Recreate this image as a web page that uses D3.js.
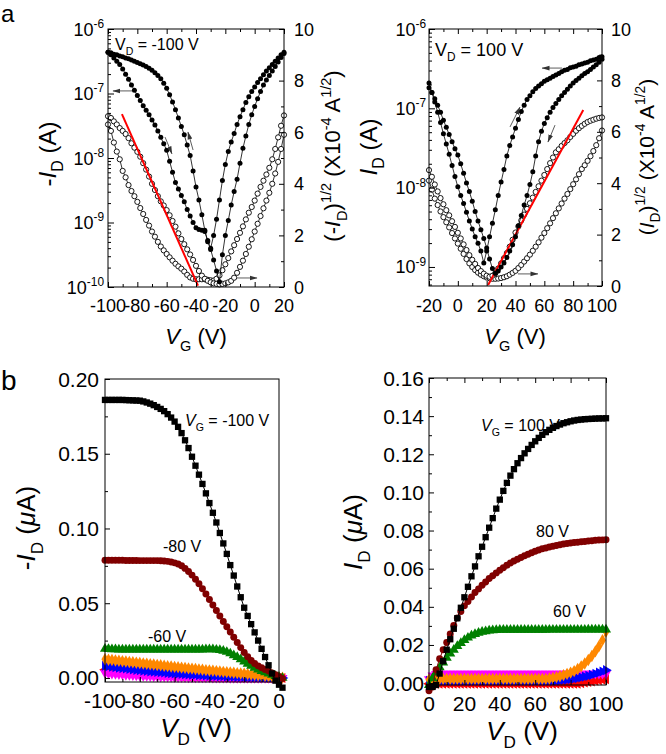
<!DOCTYPE html>
<html><head><meta charset="utf-8">
<script src="https://cdn.jsdelivr.net/npm/d3@7/dist/d3.min.js"></script>
<style>html,body{margin:0;padding:0;background:#fff}svg{display:block;font-family:"Liberation Sans",Arial,Helvetica,sans-serif}text{white-space:pre}</style>
</head><body>
<svg id="chart" width="666" height="754"></svg>
<script>
// ---------------- DATA ----------------
// Panel a (left): V_D = -100 V, transfer curves
const aLeftVG = [-100,-98,-96,-94,-92,-90,-88,-86,-84,-82,-80,-78,-76,-74,-72,-70,-68,-66,-64,-62,-60,-58,-56,-54,-52,-50,-48,-46,-44,-42,-40,-38,-36,-34,-32,-30,-28,-26,-24,-22,-20,-18,-16,-14,-12,-10,-8,-6,-4,-2,0,2,4,6,8,10,12,14,16,18,20];
// log10(-I_D / A), two sweeps
const aLeftLogI1 = [-6.36,-6.40,-6.45,-6.50,-6.55,-6.62,-6.70,-6.78,-6.87,-6.95,-7.03,-7.11,-7.19,-7.26,-7.33,-7.41,-7.49,-7.58,-7.68,-7.78,-7.88,-8.05,-8.22,-8.38,-8.48,-8.58,-8.68,-8.80,-8.90,-9.00,-9.08,-9.11,-9.12,-9.14,-9.28,-9.40,-9.20,-8.95,-8.65,-8.35,-8.10,-7.90,-7.75,-7.62,-7.48,-7.36,-7.25,-7.14,-7.05,-6.97,-6.90,-6.83,-6.77,-6.71,-6.65,-6.60,-6.55,-6.50,-6.45,-6.40,-6.36];
const aLeftLogI2 = [-6.36,-6.37,-6.39,-6.40,-6.42,-6.43,-6.45,-6.46,-6.48,-6.50,-6.52,-6.54,-6.56,-6.58,-6.61,-6.64,-6.68,-6.72,-6.77,-6.84,-6.92,-7.02,-7.13,-7.25,-7.38,-7.51,-7.64,-7.80,-7.96,-8.20,-8.45,-8.65,-8.88,-9.12,-9.30,-9.42,-9.58,-9.75,-9.92,-9.50,-9.20,-8.97,-8.73,-8.52,-8.33,-8.08,-7.85,-7.66,-7.48,-7.33,-7.20,-7.08,-6.97,-6.87,-6.79,-6.72,-6.65,-6.58,-6.51,-6.44,-6.38];
// (-I_D)^1/2 in 1e-4 A^1/2, two sweeps
const aLeftSqrt1 = [6.62,6.55,6.42,6.30,6.16,6.05,5.93,5.77,5.57,5.40,5.24,5.05,4.80,4.55,4.28,4.00,3.76,3.52,3.32,3.16,2.98,2.78,2.56,2.34,2.08,1.86,1.66,1.46,1.26,1.05,0.82,0.62,0.44,0.32,0.24,0.18,0.14,0.12,0.10,0.12,0.14,0.18,0.24,0.36,0.55,0.78,1.02,1.28,1.56,1.85,2.15,2.45,2.75,3.05,3.35,3.65,4.00,4.40,4.85,5.35,5.90];
const aLeftSqrt2 = [6.30,6.05,5.60,5.25,4.95,4.50,4.25,3.95,3.72,3.52,3.30,3.06,2.83,2.60,2.38,2.15,1.95,1.75,1.57,1.42,1.28,1.15,1.02,0.90,0.80,0.71,0.60,0.47,0.37,0.32,0.30,0.30,0.30,0.30,0.28,0.26,0.25,0.32,0.45,0.65,0.88,1.12,1.38,1.62,1.86,2.10,2.35,2.62,2.88,3.10,3.35,3.62,3.88,4.12,4.36,4.62,4.95,5.35,5.80,6.25,6.65];
const aLeftFitVG = [-90.5,-38.6];
const aLeftFitSqrt = [6.7,0.05];

// Panel a (right): V_D = 100 V
const aRightVG = [-20,-18,-16,-14,-12,-10,-8,-6,-4,-2,0,2,4,6,8,10,12,14,16,18,20,22,24,26,28,30,32,34,36,38,40,42,44,46,48,50,52,54,56,58,60,62,64,66,68,70,72,74,76,78,80,82,84,86,88,90,92,94,96,98,100];
const aRightLogI1 = [-6.68,-6.80,-6.92,-7.05,-7.18,-7.32,-7.45,-7.58,-7.72,-7.86,-7.99,-8.10,-8.20,-8.31,-8.42,-8.52,-8.62,-8.70,-8.80,-8.95,-8.80,-8.62,-8.45,-8.28,-8.10,-7.93,-7.77,-7.60,-7.47,-7.36,-7.25,-7.14,-7.04,-6.96,-6.89,-6.84,-6.79,-6.75,-6.72,-6.69,-6.66,-6.64,-6.62,-6.60,-6.58,-6.56,-6.54,-6.52,-6.51,-6.49,-6.48,-6.47,-6.45,-6.44,-6.43,-6.42,-6.40,-6.39,-6.38,-6.36,-6.35];
const aRightLogI2 = [-6.74,-6.80,-6.88,-6.96,-7.05,-7.15,-7.24,-7.33,-7.42,-7.51,-7.59,-7.70,-7.82,-7.94,-8.05,-8.17,-8.30,-8.42,-8.53,-8.64,-8.76,-8.90,-9.02,-9.08,-9.05,-9.00,-8.95,-8.88,-8.80,-8.72,-8.62,-8.48,-8.35,-8.22,-8.10,-7.96,-7.80,-7.60,-7.42,-7.29,-7.19,-7.12,-7.05,-6.99,-6.94,-6.89,-6.84,-6.80,-6.76,-6.72,-6.68,-6.65,-6.62,-6.59,-6.56,-6.54,-6.51,-6.48,-6.45,-6.42,-6.38];
const aRightSqrt1 = [4.51,4.25,3.95,3.68,3.42,3.18,2.95,2.75,2.52,2.30,2.07,1.85,1.62,1.40,1.20,1.02,0.86,0.70,0.58,0.48,0.40,0.36,0.40,0.50,0.68,0.88,1.08,1.28,1.53,1.80,2.08,2.32,2.55,2.78,3.00,3.22,3.44,3.66,3.88,4.10,4.32,4.55,4.78,5.00,5.20,5.32,5.45,5.56,5.67,5.80,5.92,6.04,6.14,6.23,6.31,6.38,6.43,6.47,6.51,6.54,6.56];
const aRightSqrt2 = [4.10,3.75,3.40,3.15,2.90,2.68,2.48,2.28,2.06,1.85,1.65,1.45,1.25,1.05,0.88,0.74,0.62,0.52,0.44,0.38,0.33,0.30,0.28,0.28,0.29,0.31,0.34,0.38,0.44,0.51,0.59,0.70,0.82,0.95,1.08,1.22,1.37,1.53,1.70,1.88,2.06,2.25,2.44,2.64,2.83,3.02,3.21,3.40,3.58,3.77,3.96,4.15,4.35,4.55,4.70,4.87,5.05,5.25,5.48,5.75,6.05];
const aRightFitVG = [21,87];
const aRightFitSqrt = [0.04,6.85];

// Panel b (left): output curves, -I_D in uA
const bLeftVD = [-100,-98,-96,-94,-92,-90,-88,-86,-84,-82,-80,-78,-76,-74,-72,-70,-68,-66,-64,-62,-60,-58,-56,-54,-52,-50,-48,-46,-44,-42,-40,-38,-36,-34,-32,-30,-28,-26,-24,-22,-20,-18,-16,-14,-12,-10,-8,-6,-4,-2,0,2];
const bLeftVG100 = [0.186,0.186,0.186,0.186,0.186,0.186,0.1859,0.1858,0.1857,0.1856,0.1855,0.185,0.1843,0.1835,0.1825,0.1813,0.18,0.1785,0.1765,0.1742,0.1715,0.168,0.1638,0.159,0.1538,0.148,0.142,0.136,0.1298,0.1235,0.117,0.1105,0.104,0.097,0.090,0.083,0.0755,0.0685,0.0612,0.054,0.047,0.0415,0.036,0.0305,0.025,0.0195,0.014,0.0085,0.003,-0.0018,-0.0045,-0.0065];
const bLeftVG80 = [0.0787,0.0787,0.0787,0.0787,0.0787,0.0787,0.0786,0.0786,0.0786,0.0786,0.0785,0.0785,0.0785,0.0785,0.0785,0.0785,0.0784,0.0782,0.078,0.0776,0.077,0.0762,0.075,0.0733,0.0712,0.0688,0.066,0.063,0.0597,0.0562,0.0525,0.0488,0.0451,0.0415,0.0378,0.0342,0.0307,0.0272,0.0237,0.0203,0.0171,0.0142,0.0117,0.0097,0.0081,0.0068,0.0057,0.0046,0.0034,0.0021,0.0008,-0.0004];
const bLeftVG60 = [0.0195,0.0193,0.0192,0.0191,0.019,0.019,0.019,0.019,0.019,0.019,0.019,0.019,0.019,0.019,0.019,0.019,0.019,0.019,0.019,0.019,0.019,0.019,0.019,0.019,0.019,0.019,0.019,0.019,0.019,0.0191,0.0192,0.0191,0.0189,0.0186,0.0181,0.0174,0.0164,0.0152,0.0139,0.0125,0.011,0.0095,0.0081,0.0068,0.0056,0.0046,0.0037,0.0029,0.0021,0.0013,0.0006,0.0];
const bLeftMagenta = [0.0033,0.0031,0.0029,0.0027,0.0025,0.0023,0.0021,0.002,0.0018,0.0017,0.0015,0.0014,0.0013,0.0012,0.0011,0.001,0.0009,0.0008,0.0008,0.0007,0.0006,0.0006,0.0005,0.0005,0.0004,0.0004,0.0004,0.0003,0.0003,0.0003,0.0003,0.0002,0.0002,0.0002,0.0002,0.0002,0.0001,0.0001,0.0001,0.0001,0.0001,0.0001,0.0001,0.0001,0.0,0.0,0.0,0.0,0.0,0.0,0.0,0.0];
const bLeftRed = [0.0055,0.0052,0.0049,0.0046,0.0044,0.0042,0.0039,0.0037,0.0034,0.0032,0.003,0.0028,0.0026,0.0024,0.0022,0.0021,0.0019,0.0018,0.0016,0.0015,0.0014,0.0013,0.0012,0.0011,0.001,0.0009,0.0008,0.0007,0.0006,0.0006,0.0005,0.0005,0.0004,0.0004,0.0003,0.0003,0.0003,0.0002,0.0002,0.0002,0.0002,0.0001,0.0001,0.0001,0.0001,0.0001,0.0,0.0,0.0,0.0,0.0,0.0];
const bLeftBlue = [0.0082,0.0079,0.0075,0.0072,0.0069,0.0066,0.0063,0.006,0.0057,0.0054,0.0052,0.0049,0.0047,0.0044,0.0042,0.004,0.0038,0.0036,0.0034,0.0032,0.003,0.0028,0.0027,0.0025,0.0024,0.0022,0.0021,0.0019,0.0018,0.0016,0.0015,0.0014,0.0013,0.0012,0.0011,0.001,0.0009,0.0008,0.0007,0.0007,0.0006,0.0005,0.0005,0.0004,0.0004,0.0003,0.0003,0.0002,0.0002,0.0001,0.0001,0.0];
const bLeftOrange = [0.0125,0.0122,0.012,0.0117,0.0115,0.0112,0.011,0.0107,0.0105,0.0102,0.01,0.0097,0.0095,0.0092,0.009,0.0087,0.0085,0.0082,0.0079,0.0077,0.0074,0.0072,0.0069,0.0067,0.0064,0.0062,0.006,0.0057,0.0055,0.0052,0.005,0.0048,0.0046,0.0043,0.0041,0.0039,0.0037,0.0035,0.0032,0.003,0.0028,0.0026,0.0023,0.0021,0.0018,0.0016,0.0014,0.0011,0.0009,0.0006,0.0004,0.0002];

// Panel b (right): I_D in uA
const bRightVD = [0,2,4,6,8,10,12,14,16,18,20,22,24,26,28,30,32,34,36,38,40,42,44,46,48,50,52,54,56,58,60,62,64,66,68,70,72,74,76,78,80,82,84,86,88,90,92,94,96,98,100];
const bRightVG100 = [-0.002,-0.002,-0.001,0.005,0.0115,0.0175,0.023,0.0285,0.034,0.0395,0.045,0.0505,0.056,0.0612,0.0665,0.0715,0.0765,0.0815,0.0865,0.0915,0.0962,0.1008,0.105,0.1088,0.1122,0.1153,0.118,0.1205,0.1228,0.1249,0.1268,0.1286,0.1302,0.1316,0.1328,0.1339,0.1348,0.1356,0.1363,0.1368,0.1373,0.1377,0.138,0.1382,0.1384,0.1385,0.1386,0.1387,0.1388,0.1388,0.1389];
const bRightVG80 = [-0.004,-0.002,0.007,0.0128,0.0175,0.0213,0.0258,0.0302,0.0342,0.0375,0.0405,0.0428,0.0452,0.0475,0.0494,0.0513,0.053,0.0548,0.0563,0.0578,0.0592,0.0605,0.0618,0.063,0.064,0.065,0.0659,0.0668,0.0676,0.0684,0.0691,0.0698,0.0704,0.0709,0.0714,0.0718,0.0722,0.0726,0.0729,0.0732,0.0735,0.0737,0.0739,0.0741,0.0743,0.0745,0.0747,0.0749,0.075,0.0751,0.0752];
const bRightVG60 = [-0.001,0.0025,0.0055,0.0083,0.0108,0.0132,0.0155,0.0175,0.0194,0.021,0.0225,0.0238,0.0249,0.0257,0.0264,0.0269,0.0272,0.0275,0.0277,0.0278,0.0279,0.0279,0.0279,0.0279,0.0279,0.0279,0.0279,0.0279,0.0279,0.0279,0.0279,0.0279,0.0279,0.0279,0.028,0.028,0.028,0.028,0.028,0.028,0.028,0.028,0.028,0.028,0.028,0.0281,0.0281,0.0281,0.0281,0.0281,0.0281];
const bRightMagenta = [0.002,0.004,0.0048,0.005,0.005,0.005,0.005,0.005,0.005,0.005,0.005,0.005,0.005,0.005,0.005,0.005,0.005,0.005,0.005,0.005,0.005,0.005,0.005,0.005,0.005,0.005,0.005,0.005,0.005,0.005,0.005,0.005,0.005,0.005,0.005,0.005,0.005,0.005,0.005,0.005,0.005,0.005,0.005,0.005,0.005,0.005,0.005,0.005,0.005,0.005,0.005];
const bRightRed = [-0.0003,-0.0003,-0.0003,-0.0003,-0.0003,-0.0003,-0.0003,-0.0003,-0.0003,-0.0003,-0.0003,-0.0003,-0.0003,-0.0003,-0.0003,-0.0003,-0.0003,-0.0003,-0.0003,-0.0003,-0.0003,-0.0003,-0.0003,-0.0003,-0.0003,-0.0003,-0.0003,-0.0003,-0.0003,-0.0003,-0.0003,-0.0003,-0.0003,-0.0003,-0.0003,-0.0003,-0.0003,-0.0003,-0.0003,-0.0003,-0.0003,-0.0003,-0.0003,0.0,0.0003,0.0006,0.0009,0.0012,0.0015,0.0018,0.0021];
const bRightBlue = [0.0012,0.0012,0.0012,0.0012,0.0012,0.0012,0.0012,0.0012,0.0012,0.0012,0.0012,0.0012,0.0012,0.0012,0.0012,0.0012,0.0012,0.0012,0.0012,0.0012,0.0012,0.0012,0.0012,0.0012,0.0012,0.0012,0.0012,0.0012,0.0012,0.0012,0.0012,0.0012,0.0012,0.0012,0.0012,0.0012,0.0013,0.0014,0.0016,0.0018,0.002,0.0023,0.0026,0.003,0.0034,0.0038,0.0043,0.0049,0.0055,0.0061,0.0068];
const bRightOrange = [0.0018,0.002,0.0022,0.0022,0.0022,0.0022,0.0022,0.0022,0.0022,0.0022,0.0022,0.0022,0.0022,0.0022,0.0022,0.0022,0.0022,0.0022,0.0022,0.0022,0.0022,0.0022,0.0022,0.0022,0.0022,0.0022,0.0022,0.0022,0.0022,0.0022,0.0022,0.0022,0.0022,0.0022,0.0024,0.0027,0.0031,0.0036,0.0042,0.0048,0.0055,0.0063,0.0074,0.0088,0.0103,0.0121,0.0142,0.0166,0.0193,0.0225,0.027];

// Tick values
const aLeftXTicks = [-100,-80,-60,-40,-20,0,20];
const aRightXTicks = [-20,0,20,40,60,80,100];
const aRightAxisTicks = [0,2,4,6,8,10];
const bLeftXTicks = [-100,-80,-60,-40,-20,0];
const bLeftYTicks = [0,0.05,0.10,0.15,0.20];
const bRightXTicks = [0,20,40,60,80,100];
const bRightYTicks = [0,0.02,0.04,0.06,0.08,0.10,0.12,0.14,0.16];

// Arrow annotations (data coords: [V_G, right-axis value])
const aLeftArrows = [[[-83.6,7.6],[-96.6,7.6]],[[-12,0.35],[1.6,0.35]],[[-61.1,5.81],[-56.4,5.16]],[[-42,5.31],[-45.5,6.01]]];
const aRightArrows = [[[72.3,8.48],[58.4,8.48]],[[41.7,0.47],[55.6,0.47]],[[36.2,6.19],[43.1,6.96]],[[67.4,6.26],[62.5,5.6]]];

// ---------------- DRAWING ----------------
const svg = d3.select("#chart");
svg.append("defs").append("marker").attr("id","ah").attr("viewBox","0 0 8 6").attr("refX",7.5).attr("refY",3)
  .attr("markerWidth",8).attr("markerHeight",6).attr("markerUnits","userSpaceOnUse").attr("orient","auto")
  .append("path").attr("d","M0,0.6 L8,3 L0,5.4 Z").attr("fill","#333");

function rich(parent, parts, size) {
  const t = parent.append("text").attr("font-size", size).attr("fill", "#000");
  let cur = 0;
  parts.forEach(p => {
    const txt = p[0], mode = p[1], ital = p[2];
    const target = mode === "sub" ? size * 0.3 : mode === "sup" ? -size * 0.42 : 0;
    const ts = t.append("tspan").text(txt);
    if (target - cur !== 0) ts.attr("dy", target - cur);
    if (mode) ts.attr("font-size", size * 0.66);
    if (ital) ts.attr("font-style", "italic");
    cur = target;
  });
  return t;
}
function frame(x0, y0, x1, y1) {
  svg.append("rect").attr("x", x0).attr("y", y0).attr("width", x1 - x0).attr("height", y1 - y0)
    .attr("fill", "none").attr("stroke", "#000").attr("stroke-width", 1);
}
function tickAxis(gen, scale, vals, size, tx, ty) {
  const g = svg.append("g").attr("transform", `translate(${tx},${ty})`)
    .call(gen(scale).tickValues(vals).tickSizeInner(size).tickSizeOuter(0).tickFormat(""));
  g.select(".domain").remove();
  g.selectAll(".tick text").remove();
  g.selectAll(".tick line").attr("stroke", "#000").attr("stroke-width", 1);
}
function label(x, y, txt, size, anchor) {
  svg.append("text").attr("x", x).attr("y", y).attr("font-size", size).attr("text-anchor", anchor).text(txt);
}
function logMinor(lo, hi) {
  const v = [];
  for (let d = lo; d < hi; d++) for (let k = 2; k <= 9; k++) v.push(k * Math.pow(10, d));
  return v;
}
function drawCurve(xs, ys, xS, yS, filled) {
  const pts = xs.map((x, i) => [xS(x), yS(ys[i])]);
  svg.append("path").attr("d", d3.line()(pts)).attr("fill", "none").attr("stroke", "#000").attr("stroke-width", 0.8);
  svg.append("g").selectAll("circle").data(pts).join("circle")
    .attr("cx", d => d[0]).attr("cy", d => d[1]).attr("r", filled ? 2.5 : 2.6)
    .attr("fill", filled ? "#000" : "#fff").attr("stroke", "#000").attr("stroke-width", filled ? 0 : 0.9);
}
function arrows(list, xS, yS) {
  list.forEach(a => {
    svg.append("line").attr("x1", xS(a[0][0])).attr("y1", yS(a[0][1])).attr("x2", xS(a[1][0])).attr("y2", yS(a[1][1]))
      .attr("stroke", "#333").attr("stroke-width", 0.8).attr("marker-end", "url(#ah)");
  });
}

// ===== Panel a-left =====
const xAL = d3.scaleLinear().domain([-100, 20]).range([108, 284]);
const yALlog = d3.scaleLog().domain([1e-10, 1e-6]).range([287, 29]);
const yALr = d3.scaleLinear().domain([0, 10]).range([287, 29]);
const logToY_AL = v => yALlog(Math.pow(10, v));

drawCurve(aLeftVG, aLeftSqrt2, xAL, yALr, false);
drawCurve(aLeftVG, aLeftSqrt1, xAL, yALr, false);
svg.append("line").attr("x1", xAL(aLeftFitVG[0])).attr("y1", yALr(aLeftFitSqrt[0]))
  .attr("x2", xAL(aLeftFitVG[1])).attr("y2", yALr(aLeftFitSqrt[1])).attr("stroke", "#f00").attr("stroke-width", 2);
drawCurve(aLeftVG, aLeftLogI2, xAL, logToY_AL, true);
drawCurve(aLeftVG, aLeftLogI1, xAL, logToY_AL, true);
arrows(aLeftArrows, xAL, yALr);

frame(108, 29, 284, 287);
tickAxis(d3.axisBottom, xAL, aLeftXTicks, -5, 0, 287);
tickAxis(d3.axisBottom, xAL, [-90,-70,-50,-30,-10,10], -3, 0, 287);
tickAxis(d3.axisTop, xAL, aLeftXTicks, -5, 0, 29);
tickAxis(d3.axisTop, xAL, [-90,-70,-50,-30,-10,10], -3, 0, 29);
tickAxis(d3.axisLeft, yALlog, [1e-10,1e-9,1e-8,1e-7,1e-6], -6, 108, 0);
tickAxis(d3.axisLeft, yALlog, logMinor(-10, -6), -3, 108, 0);
tickAxis(d3.axisRight, yALr, aRightAxisTicks, -5, 284, 0);
tickAxis(d3.axisRight, yALr, [1,3,5,7,9], -3, 284, 0);

aLeftXTicks.forEach(v => label(xAL(v), 312, String(v), 18, "middle"));
aRightAxisTicks.forEach(v => label(294, yALr(v) + 6.5, String(v), 18, "start"));
[6,7,8,9,10].forEach(n => rich(svg, [["10"], ["-" + n, "sup"]], 18)
  .attr("x", 104).attr("y", yALlog(Math.pow(10, -n)) + 6.5).attr("text-anchor", "end"));

rich(svg, [["V"], ["D", "sub"], [" = -100 V"]], 16).attr("x", 115).attr("y", 50);
rich(svg, [["-"], ["I", null, true], ["D", "sub"], [" (A)"]], 24)
  .attr("transform", "translate(56,154) rotate(-90)").attr("text-anchor", "middle");
rich(svg, [["(-"], ["I", null, true], ["D", "sub"], [")"], ["1/2", "sup"], [" (X10"], ["-4", "sup"], [" A"], ["1/2", "sup"], [")"]], 22)
  .attr("transform", "translate(340,156) rotate(-90)").attr("text-anchor", "middle");
rich(svg, [["V", null, true], ["G", "sub"], [" (V)"]], 22).attr("x", 196).attr("y", 344).attr("text-anchor", "middle");
label(1, 22, "a", 24, "start");

// ===== Panel a-right =====
const xAR = d3.scaleLinear().domain([-20, 100]).range([429, 602]);
const yARlog = d3.scaleLog().domain([Math.pow(10, -9.24), 1e-6]).range([286, 29]);
const yARr = d3.scaleLinear().domain([0, 10]).range([286, 29]);
const logToY_AR = v => yARlog(Math.pow(10, v));

drawCurve(aRightVG, aRightSqrt2, xAR, yARr, false);
drawCurve(aRightVG, aRightSqrt1, xAR, yARr, false);
svg.append("line").attr("x1", xAR(aRightFitVG[0])).attr("y1", yARr(aRightFitSqrt[0]))
  .attr("x2", xAR(aRightFitVG[1])).attr("y2", yARr(aRightFitSqrt[1])).attr("stroke", "#f00").attr("stroke-width", 2);
drawCurve(aRightVG, aRightLogI2, xAR, logToY_AR, true);
drawCurve(aRightVG, aRightLogI1, xAR, logToY_AR, true);
arrows(aRightArrows, xAR, yARr);

frame(429, 29, 602, 286);
tickAxis(d3.axisBottom, xAR, aRightXTicks, -5, 0, 286);
tickAxis(d3.axisBottom, xAR, [-10,10,30,50,70,90], -3, 0, 286);
tickAxis(d3.axisTop, xAR, aRightXTicks, -5, 0, 29);
tickAxis(d3.axisTop, xAR, [-10,10,30,50,70,90], -3, 0, 29);
tickAxis(d3.axisLeft, yARlog, [1e-9,1e-8,1e-7,1e-6], -6, 429, 0);
tickAxis(d3.axisLeft, yARlog, [6e-10,7e-10,8e-10,9e-10].concat(logMinor(-9, -6)), -3, 429, 0);
tickAxis(d3.axisRight, yARr, aRightAxisTicks, -5, 602, 0);
tickAxis(d3.axisRight, yARr, [1,3,5,7,9], -3, 602, 0);

aRightXTicks.forEach(v => label(xAR(v), 312, String(v), 18, "middle"));
aRightAxisTicks.forEach(v => label(611, yARr(v) + 6.5, String(v), 18, "start"));
[6,7,8,9].forEach(n => rich(svg, [["10"], ["-" + n, "sup"]], 18)
  .attr("x", 426).attr("y", yARlog(Math.pow(10, -n)) + 6.5).attr("text-anchor", "end"));

rich(svg, [["V"], ["D", "sub"], [" = 100 V"]], 18).attr("x", 435).attr("y", 56);
rich(svg, [["I", null, true], ["D", "sub"], [" (A)"]], 24)
  .attr("transform", "translate(377,147) rotate(-90)").attr("text-anchor", "middle");
rich(svg, [["("], ["I", null, true], ["D", "sub"], [")"], ["1/2", "sup"], [" (X10"], ["-4", "sup"], [" A"], ["1/2", "sup"], [")"]], 21)
  .attr("transform", "translate(654,157) rotate(-90)").attr("text-anchor", "middle");
rich(svg, [["V", null, true], ["G", "sub"], [" (V)"]], 22).attr("x", 515).attr("y", 344).attr("text-anchor", "middle");

// ===== Panel b helpers =====
const shapes = {
  square: { type: d3.symbolSquare, size: 40, rot: 0 },
  circle: { type: d3.symbolCircle, size: 38, rot: 0 },
  triUp: { type: d3.symbolTriangle, size: 44, rot: 0 },
  triDown: { type: d3.symbolTriangle, size: 44, rot: 180 },
  triLeft: { type: d3.symbolTriangle, size: 44, rot: -90 },
  triRight: { type: d3.symbolTriangle, size: 44, rot: 90 },
  diamond: { type: d3.symbolDiamond, size: 44, rot: 0 }
};
function drawB(xs, ys, xS, yS, color, shapeKey) {
  const pts = xs.map((x, i) => [xS(x), yS(ys[i])]);
  svg.append("path").attr("d", d3.line()(pts)).attr("fill", "none").attr("stroke", color).attr("stroke-width", 1);
  const sh = shapes[shapeKey];
  const sym = d3.symbol().type(sh.type).size(sh.size)();
  svg.append("g").selectAll("path").data(pts).join("path").attr("d", sym)
    .attr("transform", d => `translate(${d[0]},${d[1]}) rotate(${sh.rot})`).attr("fill", color);
}

// ===== Panel b-left =====
const xBL = d3.scaleLinear().domain([-100, 0]).range([105, 279]);
const yBL = d3.scaleLinear().domain([-0.0027, 0.2]).range([682, 379]);
drawB(bLeftVD, bLeftRed, xBL, yBL, "#ff0000", "triLeft");
drawB(bLeftVD, bLeftMagenta, xBL, yBL, "#ff00ff", "triDown");
drawB(bLeftVD, bLeftBlue, xBL, yBL, "#0000ff", "triRight");
drawB(bLeftVD, bLeftOrange, xBL, yBL, "#ff8800", "diamond");
drawB(bLeftVD, bLeftVG60, xBL, yBL, "#008000", "triUp");
drawB(bLeftVD, bLeftVG80, xBL, yBL, "#800000", "circle");
drawB(bLeftVD, bLeftVG100, xBL, yBL, "#000000", "square");

frame(105, 379, 279, 682);
tickAxis(d3.axisBottom, xBL, bLeftXTicks, -5, 0, 682);
tickAxis(d3.axisBottom, xBL, [-90,-70,-50,-30,-10], -3, 0, 682);
tickAxis(d3.axisLeft, yBL, bLeftYTicks, -5, 105, 0);
tickAxis(d3.axisLeft, yBL, [0.025,0.075,0.125,0.175], -3, 105, 0);
bLeftXTicks.forEach(v => label(xBL(v), 708, String(v), 21, "middle"));
bLeftYTicks.forEach(v => label(99, yBL(v) + 7.5, d3.format(".2f")(v), 21, "end"));

rich(svg, [["V", null, true], ["G", "sub"], [" = -100 V"]], 16).attr("x", 185).attr("y", 426);
label(163, 552, "-80 V", 16, "start");
label(148, 642, "-60 V", 16, "start");
rich(svg, [["-"], ["I", null, true], ["D", "sub"], [" ("], ["\u03bc", null, true], ["A)"]], 26)
  .attr("transform", "translate(35,528) rotate(-90)").attr("text-anchor", "middle");
rich(svg, [["V", null, true], ["D", "sub"], [" (V)"]], 26).attr("x", 196).attr("y", 737).attr("text-anchor", "middle");
label(1, 390, "b", 28, "start");

// ===== Panel b-right =====
const xBR = d3.scaleLinear().domain([0, 100]).range([429, 606]);
const yBR = d3.scaleLinear().domain([-0.001, 0.16]).range([685, 378]);
drawB(bRightVD, bRightRed, xBR, yBR, "#ff0000", "triLeft");
drawB(bRightVD, bRightMagenta, xBR, yBR, "#ff00ff", "triDown");
drawB(bRightVD, bRightBlue, xBR, yBR, "#0000ff", "triRight");
drawB(bRightVD, bRightOrange, xBR, yBR, "#ff8800", "diamond");
drawB(bRightVD, bRightVG60, xBR, yBR, "#008000", "triUp");
drawB(bRightVD, bRightVG80, xBR, yBR, "#800000", "circle");
drawB(bRightVD, bRightVG100, xBR, yBR, "#000000", "square");

frame(429, 378, 606, 685);
tickAxis(d3.axisBottom, xBR, bRightXTicks, -5, 0, 685);
tickAxis(d3.axisBottom, xBR, [10,30,50,70,90], -3, 0, 685);
tickAxis(d3.axisTop, xBR, bRightXTicks, -5, 0, 378);
tickAxis(d3.axisTop, xBR, [10,30,50,70,90], -3, 0, 378);
tickAxis(d3.axisLeft, yBR, bRightYTicks, -5, 429, 0);
tickAxis(d3.axisLeft, yBR, [0.01,0.03,0.05,0.07,0.09,0.11,0.13,0.15], -3, 429, 0);
bRightXTicks.forEach(v => label(xBR(v), 711, String(v), 21, "middle"));
bRightYTicks.forEach(v => label(424, yBR(v) + 7.5, d3.format(".2f")(v), 21, "end"));

rich(svg, [["V", null, true], ["G", "sub"], [" = 100 V"]], 16).attr("x", 481).attr("y", 431);
label(536, 537, "80 V", 16, "start");
label(553, 617, "60 V", 16, "start");
rich(svg, [["I", null, true], ["D", "sub"], [" ("], ["\u03bc", null, true], ["A)"]], 26)
  .attr("transform", "translate(362,532) rotate(-90)").attr("text-anchor", "middle");
rich(svg, [["V", null, true], ["D", "sub"], [" (V)"]], 26).attr("x", 522).attr("y", 740).attr("text-anchor", "middle");
</script>
</body></html>
